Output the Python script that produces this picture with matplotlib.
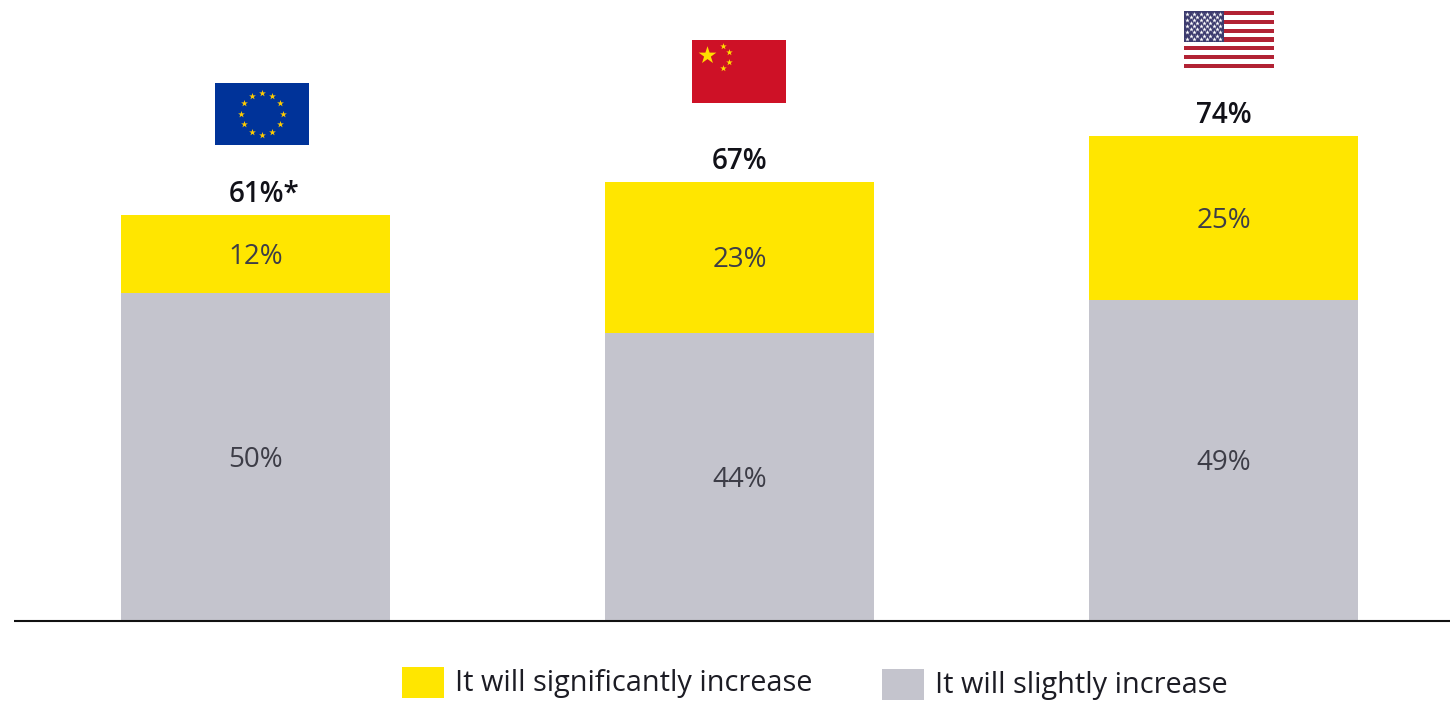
import matplotlib
matplotlib.use('Agg')
import matplotlib.pyplot as plt
from matplotlib.patches import Rectangle
import numpy as np

plt.rcParams['font.family'] = ['Open Sans', 'DejaVu Sans']

regions = ['EU', 'China', 'US']
slightly = [50, 44, 49]
significantly = [12, 23, 25]
totals = ['61%*', '67%', '74%']

legend_labels = ['It will significantly increase', 'It will slightly increase']

YELLOW = '#ffe600'
GREY = '#c4c4cd'
DARK = '#3d3d47'

W, H = 1450, 701


def px_box(x0, y0, x1, y1):
    # pixel box (y from the top) to figure fractions
    return [x0 / W, 1 - y1 / H, (x1 - x0) / W, (y1 - y0) / H]


def flag_axes(x0, y0, x1, y1, color):
    a = fig.add_axes(px_box(x0, y0, x1, y1))
    a.set_xlim(0, x1 - x0)
    a.set_ylim(y1 - y0, 0)
    a.axis('off')
    a.add_patch(Rectangle((0, 0), x1 - x0, y1 - y0, color=color, lw=0))
    return a


fig = plt.figure(figsize=(W / 100, H / 100), dpi=100)
ax = fig.add_axes(px_box(14, 0, 1450, 621))
ax.patch.set_alpha(0)

x = np.arange(len(regions))
ax.bar(x, slightly, width=0.556, color=GREY)
ax.bar(x, significantly, width=0.556, bottom=slightly, color=YELLOW)
ax.set_xlim(-0.499, 2.468)
ax.set_ylim(0, 621 / 6.555)

# the asterisk hangs off the right of the EU total
total_shift = [6.5, 0, 0]

for i in x:
    top = slightly[i] + significantly[i]
    ax.annotate(f'{slightly[i]}%', (i, slightly[i] / 2), xytext=(0, -2), textcoords='offset points',
                ha='center', va='center', fontsize=20, color=DARK)
    ax.annotate(f'{significantly[i]}%', (i, slightly[i] + significantly[i] / 2), xytext=(0, -2),
                textcoords='offset points', ha='center', va='center', fontsize=20, color=DARK)
    ax.annotate(totals[i], (i, top), xytext=(total_shift[i], 14.5), textcoords='offset points',
                ha='center', va='center', fontsize=20, fontweight=600, color='#111118')

for s in ['top', 'left', 'right']:
    ax.spines[s].set_visible(False)
ax.spines['bottom'].set_linewidth(1.5)
ax.spines['bottom'].set_color('#111111')
ax.spines['bottom'].set_capstyle('butt')
ax.set_xticks([])
ax.set_yticks([])

# EU flag
eu = flag_axes(215, 83, 309, 145, '#003399')
angles = np.arange(12) * np.pi / 6
eu.scatter(47 + 20.8 * np.cos(angles), 30.7 + 20.8 * np.sin(angles), marker='*', s=26, color='#ffcc00', lw=0)

# China flag
cn = flag_axes(692, 40, 786, 103, '#ce1126')
cn.scatter([15], [15], marker='*', s=180, color='#ffde00', lw=0)
cn.scatter([31, 37, 37, 31], [6, 12, 22, 28], marker='*', s=24, color='#ffde00', lw=0)

# US flag
us = flag_axes(1184, 11, 1274, 68, 'white')
stripe = 57 / 13
for n in range(0, 13, 2):
    us.add_patch(Rectangle((0, n * stripe), 90, stripe, color='#b22234', lw=0))
us.add_patch(Rectangle((0, 0), 40, 7 * stripe, color='#3c3b6e', lw=0))
star_x, star_y = [], []
for row in range(9):
    cols = 6 if row % 2 == 0 else 5
    for col in range(cols):
        star_x.append(3.3 + col * 6.6 + (3.3 if row % 2 else 0))
        star_y.append(2.8 + row * 3.1)
us.scatter(star_x, star_y, marker='*', s=12, color='white', lw=0)

# legend
fig.add_artist(Rectangle((402 / W, 1 - 698 / H), 42 / W, 31 / H, color=YELLOW, lw=0,
                         transform=fig.transFigure))
fig.text(455 / W, 1 - 684 / H, legend_labels[0], ha='left', va='center', fontsize=20.75, color='#1c1c24')
fig.add_artist(Rectangle((882 / W, 1 - 700 / H), 42 / W, 31 / H, color=GREY, lw=0,
                         transform=fig.transFigure))
fig.text(935 / W, 1 - 686 / H, legend_labels[1], ha='left', va='center', fontsize=20.75, color='#1c1c24')

fig.savefig('out.png', dpi=100)
